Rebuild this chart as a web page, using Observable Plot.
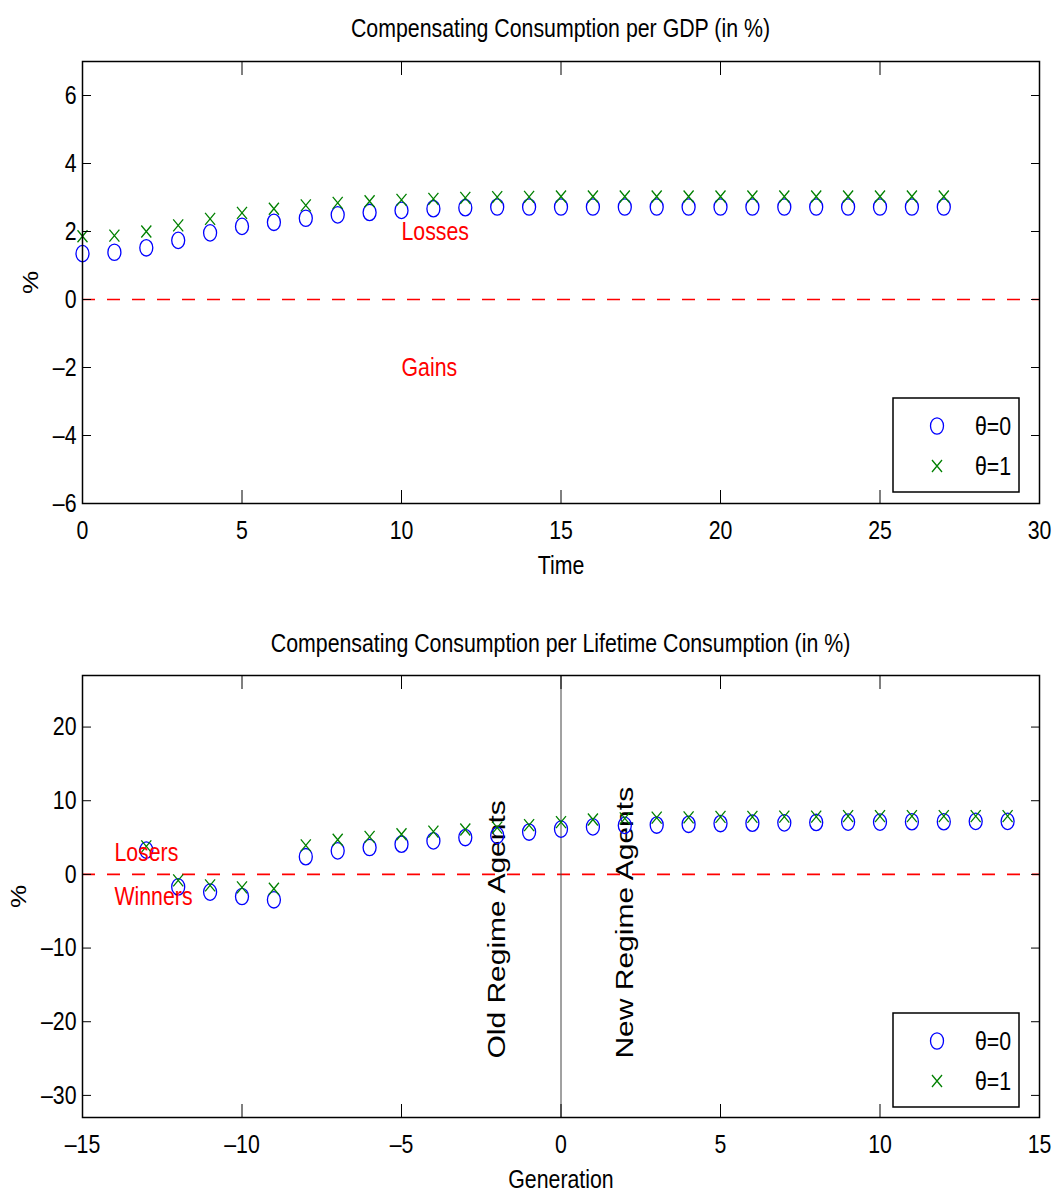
<!DOCTYPE html>
<html>
<head>
<meta charset="utf-8">
<script src="https://cdn.jsdelivr.net/npm/d3@7"></script>
<script src="https://cdn.jsdelivr.net/npm/@observablehq/plot@0.6"></script>
<style>
  body { margin: 0; background: #fff; }
  #wrap { position: relative; width: 1053px; height: 1194px; overflow: hidden;
          font-family: "Liberation Sans", Arial, sans-serif; }
  .title { position: absolute; left: 82px; width: 957px; text-align: center; font-size: 26px; line-height: 30px; color: #000;
           transform: scaleX(0.82); transform-origin: 50% 50%; white-space: nowrap; }
  .plotbox { position: absolute; left: 0; }
  .legend { position: absolute; }
</style>
</head>
<body>
<div id="wrap">
  <div class="title" style="top:13px">Compensating Consumption per GDP (in %)</div>
  <div class="plotbox" id="p1" style="top:41px"></div>
  <div class="title" style="top:628px">Compensating Consumption per Lifetime Consumption (in %)</div>
  <div class="plotbox" id="p2" style="top:655px"></div>
</div>
<script>
// ---------- Data ----------
const time = [0,1,2,3,4,5,6,7,8,9,10,11,12,13,14,15,16,17,18,19,20,21,22,23,24,25,26,27];
const gdpTheta0 = [1.35,1.39,1.52,1.74,1.96,2.15,2.27,2.39,2.49,2.56,2.62,2.67,2.70,2.72,2.72,2.72,2.72,2.72,2.72,2.72,2.72,2.72,2.72,2.72,2.72,2.72,2.72,2.72];
const gdpTheta1 = [1.86,1.88,2.00,2.18,2.37,2.55,2.67,2.77,2.84,2.89,2.93,2.96,2.99,3.01,3.02,3.03,3.03,3.03,3.03,3.03,3.03,3.03,3.03,3.03,3.03,3.03,3.03,3.03];

const generation = [-13,-12,-11,-10,-9,-8,-7,-6,-5,-4,-3,-2,-1,0,1,2,3,4,5,6,7,8,9,10,11,12,13,14];
const lifeTheta0 = [3.3,-1.7,-2.4,-3.0,-3.45,2.4,3.2,3.65,4.1,4.55,5.0,5.3,5.75,6.15,6.45,6.65,6.7,6.8,6.9,6.95,7.0,7.05,7.1,7.1,7.15,7.15,7.2,7.2];
const lifeTheta1 = [3.8,-0.8,-1.5,-1.75,-1.95,3.95,4.7,5.1,5.45,5.8,6.1,6.35,6.7,7.1,7.45,7.6,7.7,7.75,7.8,7.8,7.85,7.85,7.9,7.9,7.9,7.9,7.9,7.9];

const gdpXTicks = [0,5,10,15,20,25,30];
const gdpYTicks = [-6,-4,-2,0,2,4,6];
const lifeXTicks = [-15,-10,-5,0,5,10,15];
const lifeYTicks = [-30,-20,-10,0,10,20];

const gdpNotes = [{text:"Losses", x:10, y:2}, {text:"Gains", x:10, y:-2}];
const lifeNotes = [{text:"Losers", x:-14, y:3}, {text:"Winners", x:-14, y:-3}];
const regimeNotes = [{text:"Old Regime Agents", x:-2, y:-25}, {text:"New Regime Agents", x:2, y:-25}];
const seriesNames = ["θ=0", "θ=1"];

// ---------- Symbols ----------
const K = 0.5523;
const ellipseSymbol = {
  draw(ctx) {
    const rx = 6.5, ry = 8.2;
    ctx.moveTo(rx, 0);
    ctx.bezierCurveTo(rx, K*ry, K*rx, ry, 0, ry);
    ctx.bezierCurveTo(-K*rx, ry, -rx, K*ry, -rx, 0);
    ctx.bezierCurveTo(-rx, -K*ry, -K*rx, -ry, 0, -ry);
    ctx.bezierCurveTo(K*rx, -ry, rx, -K*ry, rx, 0);
    ctx.closePath();
  }
};
const crossSymbol = {
  draw(ctx) {
    const w = 5, h = 6;
    ctx.moveTo(-w, -h); ctx.lineTo(w, h);
    ctx.moveTo(w, -h); ctx.lineTo(-w, h);
  }
};

const FONT = '"Liberation Sans", Arial, sans-serif';
const SQ = 0.82; // horizontal squeeze of glyphs, as in the reference

function squeezeText(node) {
  d3.select(node).selectAll("text").each(function() {
    const t = this.getAttribute("transform") || "";
    this.setAttribute("transform", t + (t.includes("rotate") ? ` scale(1,${SQ})` : ` scale(${SQ},1)`));
  });
}

const minus = d => d < 0 ? "\u2013" + Math.abs(d) : String(d);

function makeChart({xs, y0, y1, xDomain, yDomain, xTicks, yTicks, xLabel, yLabelOffset, notes, extra, height}) {
  const d0 = xs.map((x, i) => ({x, y: y0[i]}));
  const d1 = xs.map((x, i) => ({x, y: y1[i]}));
  return Plot.plot({
    width: 1053, height,
    marginLeft: 82, marginRight: 14, marginTop: 20, marginBottom: height - 20 - 442,
    x: {domain: xDomain},
    y: {domain: yDomain},
    style: {fontFamily: FONT, fontSize: "26px", color: "black", background: "transparent", overflow: "visible"},
    marks: [
      Plot.ruleY([0], {stroke: "red", strokeWidth: 1.6, strokeDasharray: "13,12"}),
      ...(extra || []),
      Plot.dot(d0, {x: "x", y: "y", symbol: ellipseSymbol, r: 5, stroke: "blue", strokeWidth: 1.3, fill: "none"}),
      Plot.dot(d1, {x: "x", y: "y", symbol: crossSymbol, r: 5, stroke: "green", strokeWidth: 1.3, fill: "none"}),
      Plot.text(notes, {x: "x", y: "y", text: "text", fill: "red", textAnchor: "start", lineAnchor: "middle", fontSize: 26}),
      Plot.axisX({ticks: xTicks, tickSize: -13, tickPadding: 30, tickFormat: minus,
                  label: xLabel, labelAnchor: "center", labelArrow: "none", labelOffset: 70}),
      Plot.axisX({anchor: "top", ticks: xTicks, tickSize: -13, tickFormat: () => "", label: null}),
      Plot.axisY({ticks: yTicks, tickSize: -9, tickPadding: 15, tickFormat: minus,
                  label: "%", labelAnchor: "center", labelArrow: "none", labelOffset: yLabelOffset}),
      Plot.axisY({anchor: "right", ticks: yTicks, tickSize: -9, tickFormat: () => "", label: null}),
      Plot.frame({stroke: "black", strokeWidth: 1.5})
    ]
  });
}

const chart1 = makeChart({
  xs: time, y0: gdpTheta0, y1: gdpTheta1,
  xDomain: [0, 30], yDomain: [-6, 7], xTicks: gdpXTicks, yTicks: gdpYTicks,
  xLabel: "Time", yLabelOffset: 60, notes: gdpNotes, height: 542
});
squeezeText(chart1);
document.getElementById("p1").appendChild(chart1);

const chart2 = makeChart({
  xs: generation, y0: lifeTheta0, y1: lifeTheta1,
  xDomain: [-15, 15], yDomain: [-33, 27], xTicks: lifeXTicks, yTicks: lifeYTicks,
  xLabel: "Generation", yLabelOffset: 72, notes: lifeNotes, height: 539,
  extra: [
    Plot.ruleX([0], {stroke: "#444", strokeWidth: 1}),
    Plot.text(regimeNotes, {x: "x", y: "y", text: "text", rotate: -90, textAnchor: "start", lineAnchor: "middle",
      fill: "black", fontSize: 30})
  ]
});
squeezeText(chart2);
document.getElementById("p2").appendChild(chart2);

// ---------- Legends (boxed, inside lower-right of each panel) ----------
function addLegend(top) {
  const svg = d3.select("#wrap").append("svg")
    .attr("class", "legend")
    .style("left", "892px").style("top", top + "px")
    .attr("width", 128).attr("height", 96);
  svg.append("rect").attr("x", 1).attr("y", 1).attr("width", 126).attr("height", 94)
    .attr("fill", "white").attr("stroke", "black").attr("stroke-width", 1.5);
  const rows = [
    {name: seriesNames[0], sym: ellipseSymbol, color: "blue", cy: 29},
    {name: seriesNames[1], sym: crossSymbol, color: "green", cy: 69}
  ];
  for (const r of rows) {
    svg.append("path").attr("d", d3.symbol(r.sym)()).attr("transform", `translate(45,${r.cy})`)
      .attr("fill", "none").attr("stroke", r.color).attr("stroke-width", 1.3);
    svg.append("text").attr("transform", `translate(83,${r.cy}) scale(${SQ},1)`).attr("dy", "0.35em")
      .attr("font-family", FONT).attr("font-size", 26).attr("fill", "black").text(r.name);
  }
}
addLegend(397);
addLegend(1012);
</script>
</body>
</html>
